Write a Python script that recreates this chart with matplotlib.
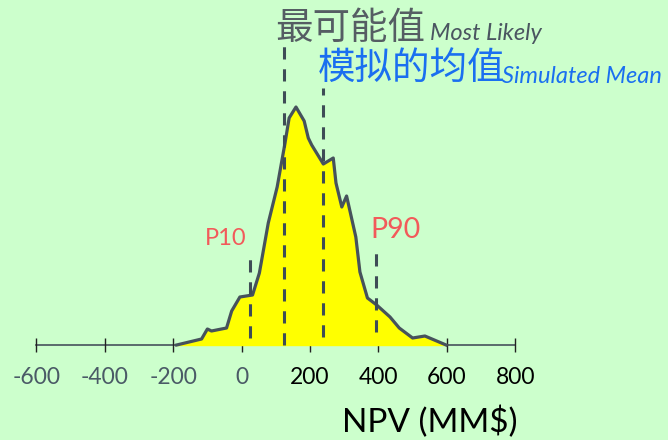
import matplotlib
matplotlib.use("Agg")
import matplotlib.pyplot as plt

# NPV distribution curve (MM$) and relative frequency (px-scale heights)
npv = [-190, -117, -100, -88, -44, -29, -5, 32, 52, 78, 104, 127, 139, 159,
       183, 195, 205, 239, 268, 276, 293, 307, 334, 346, 368, 395, 434, 461,
       500, 536, 598]
freq = [0, 6, 16, 14, 17, 34, 48, 50, 72, 122, 158, 202, 227, 238,
        224, 207, 200, 181, 187, 162, 138, 149, 108, 73, 47, 40, 28, 17,
        7, 9, 0]

p10, most_likely, sim_mean, p90 = 25, 124, 239, 393
ticks = [-600, -400, -200, 0, 200, 400, 600, 800]

bg = "#ccffcc"
line_col = "#46525c"
plt.rcParams["font.family"] = ["Lato", "Noto Sans CJK SC", "DejaVu Sans"]

fig = plt.figure(figsize=(6.68, 4.4), dpi=100, facecolor=bg)
ax = fig.add_axes([0, 0, 1, 1])
ax.set_facecolor(bg)
ax.set_xlim(-706.4, 1246.8)
ax.set_ylim(-95, 345)

ax.fill_between(npv, freq, 0, color="#ffff00", zorder=2)
ax.plot(npv, freq, color=line_col, lw=2.3, zorder=3, solid_joinstyle="round")

# dashed marker lines
dash = dict(color="#3e4c56", lw=2.2, ls=(0, (4, 3.2)), zorder=4)
ax.plot([p10, p10], [7, 89], **dash)
ax.plot([most_likely, most_likely], [0, 300], **dash)
ax.plot([sim_mean, sim_mean], [8, 257], **dash)
ax.plot([p90, p90], [13, 92], **dash)

# axis
ax.plot([ticks[0], ticks[-1]], [0, 0], color=line_col, lw=1.2, zorder=1)
ax.vlines(ticks, -7, 7, color="#222222", lw=1.0, zorder=1)
for t in ticks:
    c = "#4a5a66" if t <= 0 else "black"
    ax.text(t, -32, str(t), ha="center", va="center", fontsize=16.5, color=c)
ax.text(551, -77, "NPV (MM$)", ha="center", va="center", fontsize=24, color="black")

# annotations
ax.text(-46, 107, "P10", ha="center", va="center", fontsize=17, color="#f25a5a")
ax.text(451, 115, "P90", ha="center", va="center", fontsize=20.5, color="#f25a5a")
ax.text(97, 317, "最可能值", ha="left", va="center", fontsize=27, color="#555d63")
ax.text(551, 312, "Most Likely", ha="left", va="center", fontsize=17,
        style="italic", color="#4a5560")
ax.text(223, 277, "模拟的均值", ha="left", va="center", fontsize=27, color="#1a6ff0")
ax.text(761, 269, "Simulated Mean", ha="left", va="center", fontsize=17,
        style="italic", color="#1a6ff0")

ax.axis("off")
fig.savefig("out.png", dpi=100, facecolor=bg)
